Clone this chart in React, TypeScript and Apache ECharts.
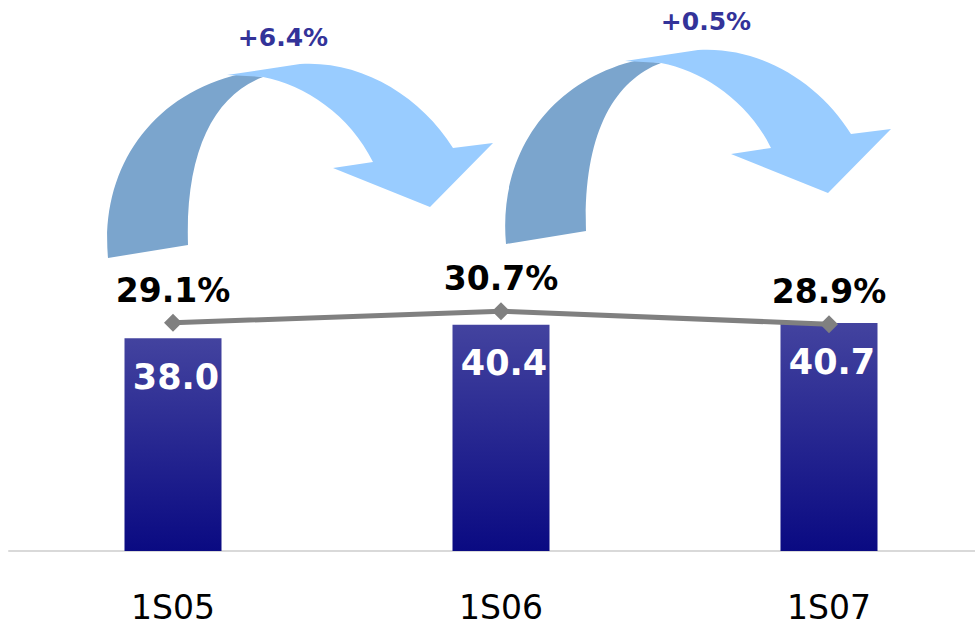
import React, { useEffect, useRef } from "react";
import * as echarts from "echarts";

// Half-year figures
const categories = ["1S05", "1S06", "1S07"];
const revenue = [38.0, 40.4, 40.7];
const marginPct = [29.1, 30.7, 28.9];
const growthLabels = ["+6.4%", "+0.5%"];

// Curved "growth" arrow: a lighter front ribbon with an arrowhead and a darker back part
const ARROW_FRONT =
  "M 227 75 L 300 64 C 360 60 420 95 453 148 L 493 143 L 430 207 L 333 168 L 373 162 C 350 115 305 85 263 77 Z";
const ARROW_BACK =
  "M 108 258 C 100 170 150 95 240 74 L 263 77 C 215 95 185 150 188 245 Z";

echarts.graphic.registerShape("arrowFront", echarts.graphic.extendPath(ARROW_FRONT, {}) as any);
echarts.graphic.registerShape("arrowBack", echarts.graphic.extendPath(ARROW_BACK, {}) as any);

const FONT = "DejaVu Sans, Verdana, sans-serif";

export default function App() {
  const ref = useRef<HTMLDivElement>(null);

  useEffect(() => {
    document.body.style.margin = "0";
    document.body.style.overflow = "hidden";
    if (!ref.current) return;
    const chart = echarts.init(ref.current, null, { renderer: "svg" });

    const arrowOffsets = [
      [0, 0],
      [398, -14],
    ];
    const labelPos = [
      [283, 37],
      [706, 21],
    ];

    const graphics: any[] = [];
    arrowOffsets.forEach(([dx, dy], i) => {
      graphics.push({
        type: "arrowBack",
        x: dx,
        y: dy,
        z: 10,
        style: { fill: "#7ba5cd" },
      });
      graphics.push({
        type: "arrowFront",
        x: dx,
        y: dy,
        z: 11,
        style: { fill: "#99ccff" },
      });
      graphics.push({
        type: "text",
        x: labelPos[i][0],
        y: labelPos[i][1],
        z: 12,
        style: {
          text: growthLabels[i],
          fill: "#333399",
          font: `bold 25px ${FONT}`,
          align: "center",
          verticalAlign: "middle",
        },
      });
    });

    chart.setOption({
      animation: false,
      backgroundColor: "#ffffff",
      grid: {
        left: 9,
        right: -18,
        top: 103,
        bottom: 71,
        containLabel: false,
        outerBoundsMode: "none",
      },
      xAxis: {
        type: "category",
        data: categories,
        axisLine: { show: true, lineStyle: { color: "#d9d9d9", width: 2 } },
        axisTick: { show: false },
        axisLabel: {
          color: "#000000",
          fontFamily: FONT,
          fontSize: 33,
          margin: 40,
        },
      },
      yAxis: [
        { type: "value", min: 0, max: 80, show: false },
        { type: "value", min: -2.6, max: 59.62, show: false },
      ],
      series: [
        {
          type: "bar",
          data: revenue,
          barWidth: 97,
          itemStyle: {
            color: new echarts.graphic.LinearGradient(0, 0, 0, 1, [
              { offset: 0, color: "#43439f" },
              { offset: 1, color: "#0a0a82" },
            ]),
          },
          label: {
            show: true,
            position: "insideTop",
            distance: 21,
            offset: [3, 0],
            color: "#ffffff",
            fontFamily: FONT,
            fontWeight: "bold",
            fontSize: 35,
            formatter: (p: any) => Number(p.value).toFixed(1),
          },
        },
        {
          type: "line",
          yAxisIndex: 1,
          data: marginPct,
          symbol: "diamond",
          symbolSize: 18,
          lineStyle: { color: "#808080", width: 5 },
          itemStyle: { color: "#808080" },
          z: 5,
          label: {
            show: true,
            position: "top",
            distance: 7,
            color: "#000000",
            fontFamily: FONT,
            fontWeight: "bold",
            fontSize: 33,
            formatter: (p: any) => `${Number(p.value).toFixed(1)}%`,
          },
        },
      ],
      graphic: graphics,
    });

    return () => chart.dispose();
  }, []);

  return <div ref={ref} style={{ width: 975, height: 622 }} />;
}
